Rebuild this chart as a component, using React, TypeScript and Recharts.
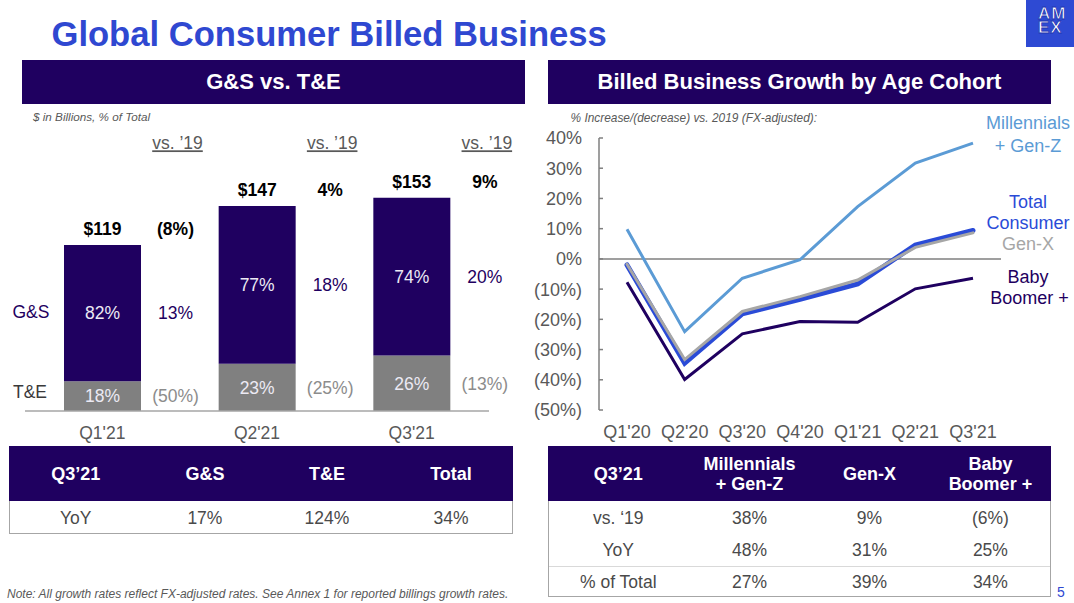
import React from "react";
import { BarChart, Bar, XAxis, YAxis, LabelList, LineChart, Line, ReferenceLine } from "recharts";

const FONT = '"Liberation Sans", Arial, Helvetica, sans-serif';
const NAVY = "#1F0060";
const BAR_GREY = "#808080";
const TITLE_BLUE = "#2F48D1";
const AXIS_TXT = "#595959";
const BODY_TXT = "#4A4A4A";
const MIL_BLUE = "#5B9BD5";
const TOTAL_BLUE = "#2A4BD7";
const GENX_GREY = "#A6A6A6";

// ---------- Left chart data ----------
const quarters = ["Q1'21", "Q2'21", "Q3'21"];
const billedTotal = [119, 147, 153];
const gsShare = [82, 77, 74];
const teShare = [18, 23, 26];
const totalVs19 = ["(8%)", "4%", "9%"];
const gsVs19 = ["13%", "18%", "20%"];
const teVs19 = ["(50%)", "(25%)", "(13%)"];
const vsHeader = "vs. ’19";

const barData = quarters.map((q, i) => ({
  q,
  te: (billedTotal[i] * teShare[i]) / 100,
  gs: (billedTotal[i] * gsShare[i]) / 100,
  teShareLabel: `${teShare[i]}%`,
  gsShareLabel: `${gsShare[i]}%`,
  teG: teVs19[i],
  gsG: gsVs19[i],
  totG: totalVs19[i],
  totalLabel: `$${billedTotal[i]}`,
  hdr: vsHeader,
}));

// ---------- Right chart data ----------
const periods = ["Q1'20", "Q2'20", "Q3'20", "Q4'20", "Q1'21", "Q2'21", "Q3'21"];
const millennials = [9.8, -24.1, -6.4, -0.3, 17.3, 31.7, 38.3];
const totalConsumer = [-2.0, -34.5, -18.2, -13.4, -8.3, 4.6, 9.4];
const genX = [-1.8, -33.3, -17.4, -12.5, -7.0, 3.8, 8.6];
const babyBoomer = [-7.7, -39.9, -24.8, -20.7, -21.0, -9.9, -6.4];
const yTicks = [40, 30, 20, 10, 0, -10, -20, -30, -40, -50];

const lineData = periods.map((p, i) => ({
  p,
  mil: millennials[i],
  tot: totalConsumer[i],
  genx: genX[i],
  boom: babyBoomer[i],
}));

// ---------- Tables ----------
const leftTableHead = ["Q3’21", "G&S", "T&E", "Total"];
const leftTableRow = ["YoY", "17%", "124%", "34%"];
const rightTableHead = [["Q3’21"], ["Millennials", "+ Gen-Z"], ["Gen-X"], ["Baby", "Boomer +"]];
const rightTableRows = [
  ["vs. ‘19", "38%", "9%", "(6%)"],
  ["YoY", "48%", "31%", "25%"],
  ["% of Total", "27%", "39%", "34%"],
];

const pct = (v: number) => (v < 0 ? `(${Math.abs(v)}%)` : `${v}%`);

// ---------- helpers ----------
type TP = {
  x: number;
  y: number;
  children: React.ReactNode;
  size?: number;
  color?: string;
  bold?: boolean;
  italic?: boolean;
  anchor?: "start" | "middle" | "end";
};
const T = ({ x, y, children, size = 17.5, color = BODY_TXT, bold, italic, anchor = "middle" }: TP) => (
  <div
    style={{
      position: "absolute",
      left: x,
      top: y,
      transform: `translate(${anchor === "middle" ? "-50%" : anchor === "end" ? "-100%" : "0"}, -50%)`,
      fontSize: size,
      color,
      fontWeight: bold ? 700 : 400,
      fontStyle: italic ? "italic" : "normal",
      whiteSpace: "nowrap",
      lineHeight: 1,
      fontFamily: FONT,
    }}
  >
    {children}
  </div>
);

const rect = (p: any) => {
  const vb = p.viewBox || {};
  return {
    x: Number(vb.x ?? p.x),
    y: Number(vb.y ?? p.y),
    w: Number(vb.width ?? p.width),
    h: Number(vb.height ?? p.height),
  };
};

const GROWTH_DX = 73;

const insideLabel = (p: any) => {
  const { x, y, w, h } = rect(p);
  return (
    <text x={x + w / 2} y={y + h / 2} dy="0.36em" textAnchor="middle" fill="#ECEAF4" fontSize={17.5} fontFamily={FONT}>
      {p.value}
    </text>
  );
};

const growthLabel = (color: string) => (p: any) => {
  const { x, y, w, h } = rect(p);
  return (
    <text x={x + w / 2 + GROWTH_DX} y={y + h / 2} dy="0.36em" textAnchor="middle" fill={color} fontSize={17.5} fontFamily={FONT}>
      {p.value}
    </text>
  );
};

const totalLabel = (p: any) => {
  const { x, y, w } = rect(p);
  return (
    <text x={x + w / 2} y={y - 16} dy="0.36em" textAnchor="middle" fill="#000" fontWeight={700} fontSize={17.5} fontFamily={FONT}>
      {p.value}
    </text>
  );
};

const totalGrowthLabel = (p: any) => {
  const { x, y, w } = rect(p);
  return (
    <text x={x + w / 2 + GROWTH_DX} y={y - 16} dy="0.36em" textAnchor="middle" fill="#000" fontWeight={700} fontSize={17.5} fontFamily={FONT}>
      {p.value}
    </text>
  );
};

const HDR_Y = 13; // chart-local y of the "vs. '19" column headers
const headerLabel = (p: any) => {
  const { x, w } = rect(p);
  return (
    <text
      x={x + w / 2 + GROWTH_DX + 2}
      y={HDR_Y}
      dy="0.36em"
      textAnchor="middle"
      fill={AXIS_TXT}
      fontSize={17.5}
      fontFamily={FONT}
      style={{ textDecoration: "underline" }}
    >
      {p.value}
    </text>
  );
};

export default function App() {
  return (
    <div
      style={{
        position: "absolute",
        left: 0,
        top: 0,
        width: 1074,
        height: 603,
        background: "#fff",
        overflow: "hidden",
        fontFamily: FONT,
      }}
    >
      {/* Title */}
      <T x={51.5} y={34.2} size={34.6} bold color={TITLE_BLUE} anchor="start">
        Global Consumer Billed Business
      </T>

      {/* AMEX logo box */}
      <svg style={{ position: "absolute", left: 1026, top: 0 }} width={48} height={47}>
        <rect x={0} y={0} width={48} height={47} fill="#2E4AD3" />
        <text fill="#fff" stroke="#1E36B0" strokeWidth={0.8} fontSize={17} fontWeight={700} fontFamily={FONT} letterSpacing={1}>
          <tspan x={12} y={19}>AM</tspan>
          <tspan x={12} y={33}>EX</tspan>
        </text>
      </svg>

      {/* Panel headers */}
      <div style={{ position: "absolute", left: 22, top: 60, width: 503, height: 44, background: NAVY }} />
      <T x={273.5} y={82} size={22} bold color="#fff">
        G&amp;S vs. T&amp;E
      </T>
      <div style={{ position: "absolute", left: 547.5, top: 60, width: 503.5, height: 43.5, background: NAVY }} />
      <T x={799.5} y={82} size={22} bold color="#fff">
        Billed Business Growth by Age Cohort
      </T>

      {/* Sub captions */}
      <T x={33} y={117.3} size={11.7} italic color="#595959" anchor="start">
        $ in Billions, % of Total
      </T>
      <T x={570.5} y={119.3} size={11.9} italic color="#595959" anchor="start">
        % Increase/(decrease) vs. 2019 (FX-adjusted):
      </T>

      {/* Left chart row labels */}
      <T x={12.5} y={313} size={17.5} color={NAVY} anchor="start">
        G&amp;S
      </T>
      <T x={13} y={393} size={17.5} color="#3A3A3A" anchor="start">
        T&amp;E
      </T>

      {/* Left stacked bar chart */}
      <div style={{ position: "absolute", left: 0, top: 130 }}>
        <BarChart width={540} height={316} data={barData} margin={{ top: 44, right: 51, bottom: 5, left: 25 }} barSize={77}>
          <XAxis
            dataKey="q"
            axisLine={{ stroke: "#A6A6A6", strokeWidth: 1.5 }}
            tickLine={false}
            tick={{ fill: AXIS_TXT, fontSize: 17.5, fontFamily: FONT }}
            tickMargin={10}
            height={30}
            interval={0}
          />
          <YAxis hide domain={[0, 170]} />
          <Bar dataKey="te" stackId="s" fill={BAR_GREY} isAnimationActive={false}>
            <LabelList dataKey="teShareLabel" content={insideLabel} />
            <LabelList dataKey="teG" content={growthLabel("#8C8C8C")} />
          </Bar>
          <Bar dataKey="gs" stackId="s" fill={NAVY} isAnimationActive={false}>
            <LabelList dataKey="gsShareLabel" content={insideLabel} />
            <LabelList dataKey="gsG" content={growthLabel(NAVY)} />
            <LabelList dataKey="totalLabel" content={totalLabel} />
            <LabelList dataKey="totG" content={totalGrowthLabel} />
            <LabelList dataKey="hdr" content={headerLabel} />
          </Bar>
        </BarChart>
      </div>

      {/* Right line chart */}
      <div style={{ position: "absolute", left: 500, top: 100 }}>
        <LineChart width={574} height={350} data={lineData} margin={{ top: 38, right: 73, bottom: 10, left: 40 }}>
          <XAxis
            dataKey="p"
            axisLine={false}
            tickLine={false}
            padding={{ left: 28, right: 28 }}
            tick={{ fill: AXIS_TXT, fontSize: 18, fontFamily: FONT }}
            tickMargin={9}
            height={30}
            interval={0}
          />
          <YAxis
            domain={[-50, 40]}
            ticks={yTicks}
            width={59}
            axisLine={{ stroke: "#7F7F7F", strokeWidth: 1.5 }}
            tickLine={{ stroke: "#7F7F7F", strokeWidth: 1.5 }}
            tickSize={-4}
            tickMargin={21}
            tickFormatter={pct}
            tick={{ fill: AXIS_TXT, fontSize: 18, fontFamily: FONT }}
            interval={0}
          />
          <ReferenceLine y={0} stroke="#7F7F7F" strokeWidth={1.5} />
          <Line dataKey="mil" stroke={MIL_BLUE} strokeWidth={3} dot={false} isAnimationActive={false} />
          <Line dataKey="boom" stroke={NAVY} strokeWidth={3} dot={false} isAnimationActive={false} />
          <Line dataKey="tot" stroke={TOTAL_BLUE} strokeWidth={5} strokeLinecap="round" dot={false} isAnimationActive={false} />
          <Line dataKey="genx" stroke={GENX_GREY} strokeWidth={3} strokeLinecap="round" dot={false} isAnimationActive={false} />
        </LineChart>
      </div>

      {/* Series labels */}
      <T x={1028} y={123.3} size={18} color={MIL_BLUE}>Millennials</T>
      <T x={1028} y={146} size={18} color={MIL_BLUE}>+ Gen-Z</T>
      <T x={1028} y={201.7} size={18} color={TOTAL_BLUE}>Total</T>
      <T x={1028} y={222.7} size={18} color={TOTAL_BLUE}>Consumer</T>
      <T x={1028} y={244.3} size={18} color={GENX_GREY}>Gen-X</T>
      <T x={1028} y={276.7} size={18} color={NAVY}>Baby</T>
      <T x={1029.5} y={298.3} size={18} color={NAVY}>Boomer +</T>

      {/* Left table */}
      <div style={{ position: "absolute", left: 8.5, top: 446, width: 504.5, height: 55, background: NAVY }} />
      <div
        style={{
          position: "absolute",
          left: 8.5,
          top: 501,
          width: 504.5,
          height: 32.5,
          boxSizing: "border-box",
          borderLeft: "1.5px solid #A6A6A6",
          borderRight: "1.5px solid #A6A6A6",
          borderBottom: "1.5px solid #A6A6A6",
        }}
      />
      {leftTableHead.map((h, i) => (
        <T key={"lh" + i} x={[75.8, 204.9, 327, 451][i]} y={474.3} size={18} bold color="#fff">
          {h}
        </T>
      ))}
      {leftTableRow.map((v, i) => (
        <T key={"lr" + i} x={[75.8, 204.9, 327, 451][i]} y={519} size={17.5} color={BODY_TXT}>
          {v}
        </T>
      ))}

      {/* Right table */}
      <div style={{ position: "absolute", left: 547.5, top: 446, width: 503.5, height: 55, background: NAVY }} />
      <div
        style={{
          position: "absolute",
          left: 547.5,
          top: 501,
          width: 503.5,
          height: 96,
          boxSizing: "border-box",
          borderLeft: "1.5px solid #A6A6A6",
          borderRight: "1.5px solid #A6A6A6",
          borderBottom: "1.5px solid #A6A6A6",
        }}
      />
      <div style={{ position: "absolute", left: 549, top: 565.5, width: 500.5, height: 1.5, background: "#D9D9D9" }} />
      {rightTableHead.map((lines, i) =>
        lines.map((ln, j) => (
          <T
            key={"rh" + i + "-" + j}
            x={[618.3, 749.5, 869.5, 990.4][i]}
            y={lines.length === 1 ? 474.3 : [464.3, 484.3][j]}
            size={18}
            bold
            color="#fff"
          >
            {ln}
          </T>
        ))
      )}
      {rightTableRows.map((row, r) =>
        row.map((v, i) => (
          <T key={"rr" + r + "-" + i} x={[618.3, 749.5, 869.5, 990.4][i]} y={[519, 551, 582.7][r]} size={17.5} color={BODY_TXT}>
            {v}
          </T>
        ))
      )}

      {/* Footer */}
      <T x={7} y={594} size={12} italic color="#595959" anchor="start">
        Note: All growth rates reflect FX-adjusted rates. See Annex 1 for reported billings growth rates.
      </T>
      <T x={1061} y={591.7} size={14} color={TITLE_BLUE}>
        5
      </T>
    </div>
  );
}
